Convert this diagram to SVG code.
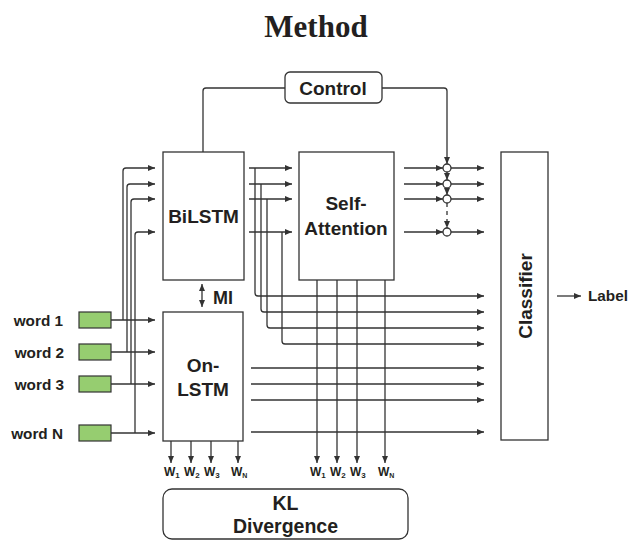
<svg xmlns="http://www.w3.org/2000/svg" width="629" height="541" viewBox="0 0 629 541">
<style>
.box{fill:#fff;stroke:#333;stroke-width:1.3}
.ln{fill:none;stroke:#333;stroke-width:1.3}
.arr{marker-end:url(#ah)}
.t{font-family:"Liberation Sans",Arial,sans-serif;font-weight:bold;fill:#231f20}
.word{fill:#96cd70;stroke:#333;stroke-width:1.2}
</style>
<defs>
<marker id="ah" markerUnits="userSpaceOnUse" markerWidth="8" markerHeight="6" refX="7" refY="3" orient="auto">
<path d="M0,0 L7,3 L0,6 z" fill="#333"/>
</marker>
</defs>
<text x="316" y="37" text-anchor="middle" style="font-family:'Liberation Serif','Times New Roman',serif;font-weight:bold;font-size:31px;fill:#231f20">Method</text>

<g id="connectors">
<!-- control lines -->
<path class="ln" d="M285,88 H206 Q203,88 203,91 V152"/>
<path class="ln arr" d="M382,88 H444 Q447,88 447,91 V164"/>
<path class="ln arr" d="M447,172 V180"/>
<path class="ln arr" d="M447,188 V195"/>
<path class="ln arr" d="M447,203 V228" stroke-dasharray="4,4"/>
<!-- inputs to BiLSTM -->
<path class="ln arr" d="M123,320 V171 Q123,168 126,168 H155"/>
<path class="ln arr" d="M127,352 V187 Q127,184 130,184 H155"/>
<path class="ln arr" d="M131,384 V202 Q131,199 134,199 H155"/>
<path class="ln arr" d="M135,433 V235 Q135,232 138,232 H155"/>
<!-- words to On-LSTM -->
<path class="ln arr" d="M111,320 H155"/>
<path class="ln arr" d="M111,352 H155"/>
<path class="ln arr" d="M111,384 H155"/>
<path class="ln arr" d="M111,433 H155"/>
<!-- MI -->
<path class="ln" d="M202,284 V307" marker-end="url(#ah)" marker-start="url(#ahs)"/>
<!-- BiLSTM outputs -->
<path class="ln arr" d="M249,168 H292"/>
<path class="ln arr" d="M249,184 H292"/>
<path class="ln arr" d="M249,199 H292"/>
<path class="ln arr" d="M249,232 H292"/>
<path class="ln arr" d="M255,168 V293 Q255,296 258,296 H484"/>
<path class="ln arr" d="M261,184 V309 Q261,312 264,312 H484"/>
<path class="ln arr" d="M267,199 V325 Q267,328 270,328 H484"/>
<path class="ln arr" d="M282,232 V341 Q282,344 285,344 H484"/>
<!-- On-LSTM outputs -->
<path class="ln arr" d="M251,368 H484"/>
<path class="ln arr" d="M251,384 H484"/>
<path class="ln arr" d="M251,400 H484"/>
<path class="ln arr" d="M251,432 H484"/>
<!-- Self-attention outputs -->
<path class="ln arr" d="M404,168 H443"/>
<path class="ln arr" d="M404,184 H443"/>
<path class="ln arr" d="M404,199 H443"/>
<path class="ln arr" d="M404,232 H443"/>
<path class="ln arr" d="M451,168 H484"/>
<path class="ln arr" d="M451,184 H484"/>
<path class="ln arr" d="M451,199 H484"/>
<path class="ln arr" d="M451,232 H484"/>
<!-- Self-attention bottom -->
<path class="ln arr" d="M317,280 V463"/>
<path class="ln arr" d="M337,280 V463"/>
<path class="ln arr" d="M357,280 V463"/>
<path class="ln arr" d="M385,280 V463"/>
<!-- On-LSTM bottom -->
<path class="ln arr" d="M171,441 V463"/>
<path class="ln arr" d="M191,441 V463"/>
<path class="ln arr" d="M211,441 V463"/>
<path class="ln arr" d="M238,441 V463"/>
<!-- Label -->
<path class="ln arr" d="M557,296 H581"/>
</g>
<defs>
<marker id="ahs" markerUnits="userSpaceOnUse" markerWidth="8" markerHeight="6" refX="7" refY="3" orient="auto-start-reverse">
<path d="M0,0 L7,3 L0,6 z" fill="#333"/>
</marker>
</defs>

<g id="circles">
<circle class="box" cx="447" cy="168" r="4"/>
<circle class="box" cx="447" cy="184" r="4"/>
<circle class="box" cx="447" cy="199" r="4"/>
<circle class="box" cx="447" cy="232" r="4"/>
</g>

<g id="control">
<rect class="box" x="285" y="72" width="97" height="31" rx="5"/>
<text class="t" x="333" y="95" text-anchor="middle" font-size="19">Control</text>
</g>
<g id="bilstm">
<rect class="box" x="163" y="152" width="81" height="128"/>
<text class="t" x="203.5" y="223" text-anchor="middle" font-size="19">BiLSTM</text>
</g>
<g id="selfattention">
<rect class="box" x="299" y="152" width="95" height="128"/>
<text class="t" x="346" y="210" text-anchor="middle" font-size="19">Self-</text>
<text class="t" x="346" y="235" text-anchor="middle" font-size="19">Attention</text>
</g>
<g id="mi">
<text class="t" x="213" y="304" font-size="18">MI</text>
</g>
<g id="onlstm">
<rect class="box" x="163" y="312" width="80" height="129"/>
<text class="t" x="203" y="372" text-anchor="middle" font-size="19">On-</text>
<text class="t" x="203" y="396" text-anchor="middle" font-size="19">LSTM</text>
</g>
<g id="classifier">
<rect class="box" x="501" y="152" width="47" height="288"/>
<text class="t" x="0" y="0" text-anchor="middle" font-size="19" transform="translate(532,296) rotate(-90)">Classifier</text>
</g>
<g id="label">
<text class="t" x="588" y="301" font-size="15.3">Label</text>
</g>
<g id="word1">
<text class="t" x="63" y="325.5" text-anchor="end" font-size="15.3">word 1</text>
<rect class="word" x="79" y="312" width="32" height="16"/>
</g>
<g id="word2">
<text class="t" x="64" y="357.5" text-anchor="end" font-size="15.3">word 2</text>
<rect class="word" x="79" y="344" width="32" height="16"/>
</g>
<g id="word3">
<text class="t" x="64" y="389.5" text-anchor="end" font-size="15.3">word 3</text>
<rect class="word" x="79" y="376" width="32" height="16"/>
</g>
<g id="wordN">
<text class="t" x="63" y="438.5" text-anchor="end" font-size="15.3">word N</text>
<rect class="word" x="79" y="425" width="32" height="16"/>
</g>
<g id="wlabels1">
<text class="t" x="164" y="476" font-size="12">W<tspan font-size="8" dy="2">1</tspan></text>
<text class="t" x="184" y="476" font-size="12">W<tspan font-size="8" dy="2">2</tspan></text>
<text class="t" x="204" y="476" font-size="12">W<tspan font-size="8" dy="2">3</tspan></text>
<text class="t" x="231" y="476" font-size="12">W<tspan font-size="7" dy="2">N</tspan></text>
</g>
<g id="wlabels2">
<text class="t" x="310" y="476" font-size="12">W<tspan font-size="8" dy="2">1</tspan></text>
<text class="t" x="330" y="476" font-size="12">W<tspan font-size="8" dy="2">2</tspan></text>
<text class="t" x="350" y="476" font-size="12">W<tspan font-size="8" dy="2">3</tspan></text>
<text class="t" x="378" y="476" font-size="12">W<tspan font-size="7" dy="2">N</tspan></text>
</g>
<g id="kl">
<rect class="box" x="163" y="489" width="245" height="50" rx="9"/>
<text class="t" x="285.5" y="510" text-anchor="middle" font-size="19.5">KL</text>
<text class="t" x="285.5" y="533" text-anchor="middle" font-size="19.5">Divergence</text>
</g>
</svg>
